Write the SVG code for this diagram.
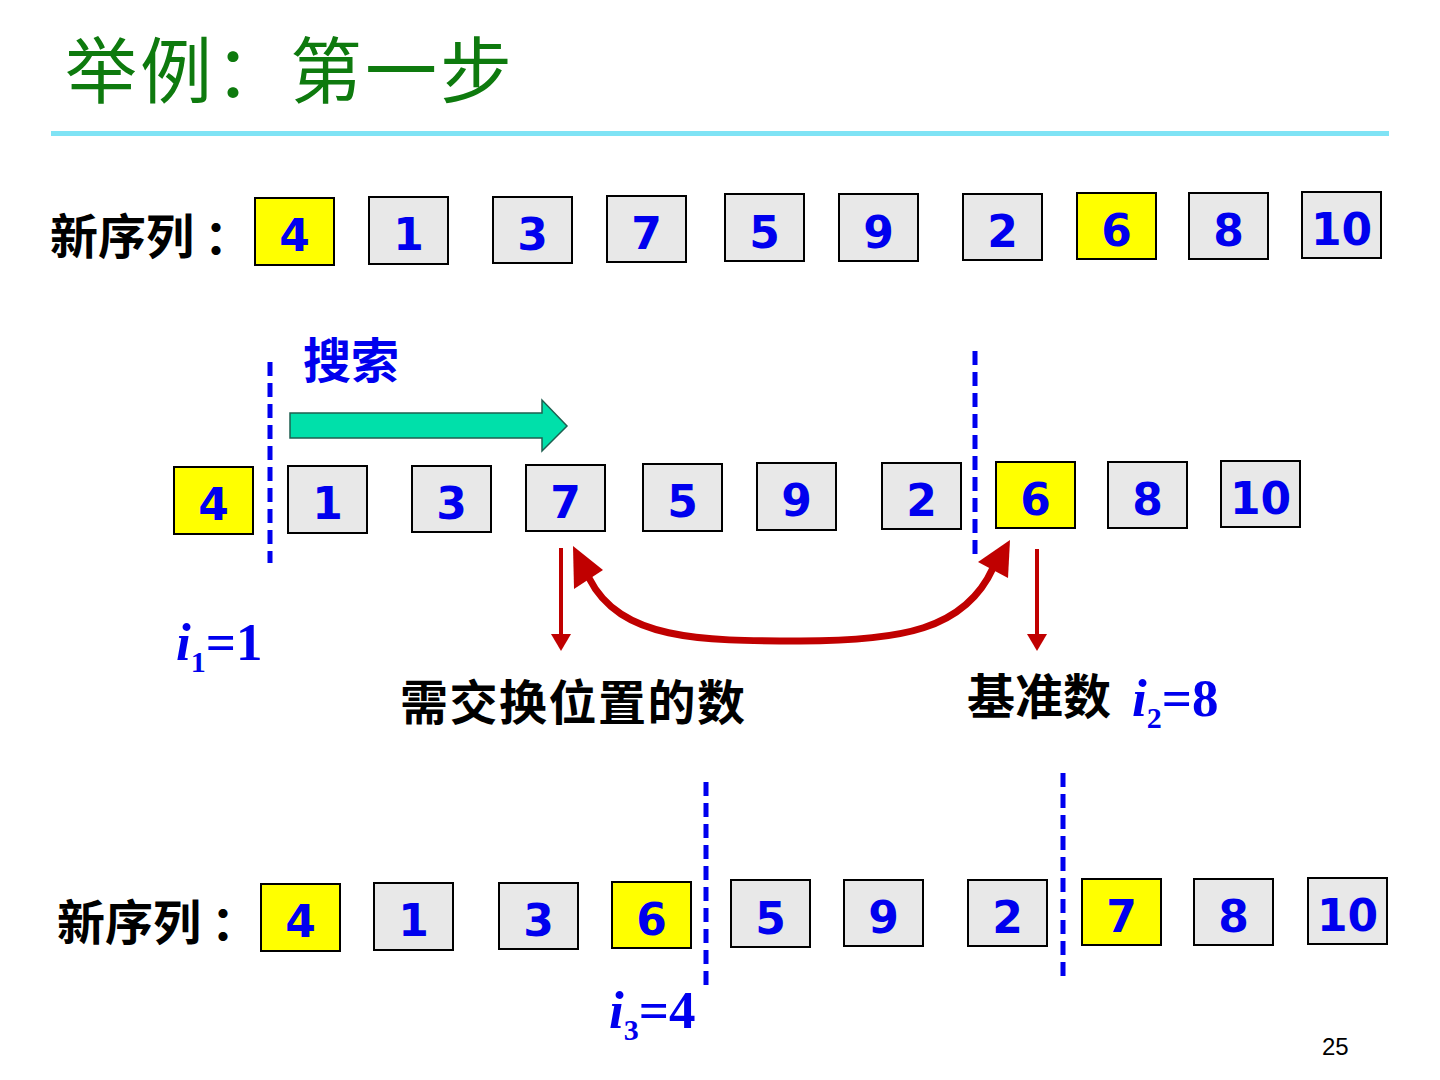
<svg xmlns="http://www.w3.org/2000/svg" width="1440" height="1080" viewBox="0 0 1440 1080">
<defs>
<style>
.title{font-family:"Noto Sans CJK SC",sans-serif;font-size:72px;fill:#0e7a0e;letter-spacing:3px;}
.lbl{font-family:"Noto Sans CJK SC",sans-serif;font-weight:bold;font-size:48px;fill:#000;}
.blue{fill:#0000ee;}
.box{fill:#e8e8e8;stroke:#000;stroke-width:2;}
.hl{fill:#ffff00;stroke:#000;stroke-width:2;}
.num{font-family:"DejaVu Sans",sans-serif;font-weight:bold;font-size:44px;fill:#0000ee;text-anchor:middle;}
.idx{font-family:"Liberation Serif",serif;font-weight:bold;font-size:53px;fill:#0000ee;}
.idx .i{font-style:italic;}
.sub{font-size:30px;}
.dash{stroke:#0000ee;stroke-width:5;stroke-dasharray:14 7;fill:none;}
.red{stroke:#c00000;fill:none;}
</style>
</defs>
<rect width="1440" height="1080" fill="#fff"/>
<g id="title">
<text class="title" x="65" y="97">举例：第一步</text>
<rect x="51" y="131" width="1338" height="5" fill="#7fe3f5"/>
</g>

<g id="row1">
<text class="lbl" x="50" y="254">新序列<tspan dx="10">：</tspan></text>
<g id="r1-4"><rect class="hl" x="255" y="198" width="79" height="67"/><text class="num" x="294.5" y="251">4</text></g>
<g id="r1-1"><rect class="box" x="369" y="197" width="79" height="67"/><text class="num" x="408.5" y="250">1</text></g>
<g id="r1-3"><rect class="box" x="493" y="197" width="79" height="66"/><text class="num" x="532.5" y="250">3</text></g>
<g id="r1-7"><rect class="box" x="607" y="196" width="79" height="66"/><text class="num" x="646.5" y="249">7</text></g>
<g id="r1-5"><rect class="box" x="725" y="194" width="79" height="67"/><text class="num" x="764.5" y="248">5</text></g>
<g id="r1-9"><rect class="box" x="839" y="194" width="79" height="67"/><text class="num" x="878.5" y="248">9</text></g>
<g id="r1-2"><rect class="box" x="963" y="194" width="79" height="66"/><text class="num" x="1002.5" y="247">2</text></g>
<g id="r1-6"><rect class="hl" x="1077" y="193" width="79" height="66"/><text class="num" x="1116.5" y="246">6</text></g>
<g id="r1-8"><rect class="box" x="1189" y="193" width="79" height="66"/><text class="num" x="1228.5" y="246">8</text></g>
<g id="r1-10"><rect class="box" x="1302" y="192" width="79" height="66"/><text class="num" x="1341.5" y="245">10</text></g>
</g>

<g id="row2">
<text class="lbl blue" x="303" y="378" style="fill:#0000ee">搜索</text>
<g id="r2-4"><rect class="hl" x="174" y="467" width="79" height="67"/><text class="num" x="213.5" y="520">4</text></g>
<g id="r2-1"><rect class="box" x="288" y="466" width="79" height="67"/><text class="num" x="327.5" y="519">1</text></g>
<g id="r2-3"><rect class="box" x="412" y="466" width="79" height="66"/><text class="num" x="451.5" y="519">3</text></g>
<g id="r2-7"><rect class="box" x="526" y="465" width="79" height="66"/><text class="num" x="565.5" y="518">7</text></g>
<g id="r2-5"><rect class="box" x="643" y="464" width="79" height="67"/><text class="num" x="682.5" y="517">5</text></g>
<g id="r2-9"><rect class="box" x="757" y="463" width="79" height="67"/><text class="num" x="796.5" y="516">9</text></g>
<g id="r2-2"><rect class="box" x="882" y="463" width="79" height="66"/><text class="num" x="921.5" y="516">2</text></g>
<g id="r2-6"><rect class="hl" x="996" y="462" width="79" height="66"/><text class="num" x="1035.5" y="515">6</text></g>
<g id="r2-8"><rect class="box" x="1108" y="462" width="79" height="66"/><text class="num" x="1147.5" y="515">8</text></g>
<g id="r2-10"><rect class="box" x="1221" y="461" width="79" height="66"/><text class="num" x="1260.5" y="514">10</text></g>
<text class="idx" x="176" y="660"><tspan class="i">i</tspan><tspan class="sub" dy="12">1</tspan><tspan dy="-12">=1</tspan></text>
<text class="lbl" x="400" y="720" style="letter-spacing:1.5px">需交换位置的数</text>
<text class="lbl" x="967" y="714">基准数</text>
<text class="idx" x="1132" y="716"><tspan class="i">i</tspan><tspan class="sub" dy="12">2</tspan><tspan dy="-12">=8</tspan></text>
</g>

<g id="row3">
<text class="lbl" x="57" y="940">新序列<tspan dx="10">：</tspan></text>
<g id="r3-4"><rect class="hl" x="261" y="884" width="79" height="67"/><text class="num" x="300.5" y="937">4</text></g>
<g id="r3-1"><rect class="box" x="374" y="883" width="79" height="67"/><text class="num" x="413.5" y="936">1</text></g>
<g id="r3-3"><rect class="box" x="499" y="883" width="79" height="66"/><text class="num" x="538.5" y="936">3</text></g>
<g id="r3-6"><rect class="hl" x="612" y="882" width="79" height="66"/><text class="num" x="651.5" y="935">6</text></g>
<g id="r3-5"><rect class="box" x="731" y="880" width="79" height="67"/><text class="num" x="770.5" y="934">5</text></g>
<g id="r3-9"><rect class="box" x="844" y="880" width="79" height="66"/><text class="num" x="883.5" y="933">9</text></g>
<g id="r3-2"><rect class="box" x="968" y="880" width="79" height="66"/><text class="num" x="1007.5" y="933">2</text></g>
<g id="r3-7"><rect class="hl" x="1082" y="879" width="79" height="66"/><text class="num" x="1121.5" y="932">7</text></g>
<g id="r3-8"><rect class="box" x="1194" y="879" width="79" height="66"/><text class="num" x="1233.5" y="932">8</text></g>
<g id="r3-10"><rect class="box" x="1308" y="878" width="79" height="66"/><text class="num" x="1347.5" y="931">10</text></g>
<text class="idx" x="609" y="1028"><tspan class="i">i</tspan><tspan class="sub" dy="12">3</tspan><tspan dy="-12">=4</tspan></text>
</g>

<text x="1322" y="1055" font-family="Liberation Sans, sans-serif" font-size="24" fill="#000">25</text>

<g id="connectors">
<line class="dash" x1="270" y1="362" x2="270" y2="563"/>
<line class="dash" x1="975" y1="351" x2="975" y2="556"/>
<line class="dash" x1="706" y1="782" x2="706" y2="986"/>
<line class="dash" x1="1063" y1="773" x2="1063" y2="976"/>
<path d="M290,413 L542,413 L542,400 L567,426 L542,451 L542,438 L290,438 Z" fill="#00e0aa" stroke="#1f5f50" stroke-width="1.5"/>
<line class="red" x1="561" y1="548" x2="561" y2="636" stroke-width="4"/>
<path d="M551,634 L571,634 L561,651 Z" fill="#c00000"/>
<line class="red" x1="1037" y1="549" x2="1037" y2="636" stroke-width="4"/>
<path d="M1027,634 L1047,634 L1037,651 Z" fill="#c00000"/>
<path class="red" d="M589,578 C620,640 700,641 800,641 C900,641 965,630 993,568" stroke-width="7"/>
<path d="M573,546 L574,589 L603,570 Z" fill="#c00000"/>
<path d="M1010,540 L978,562 L1008,578 Z" fill="#c00000"/>
</g>
</svg>
